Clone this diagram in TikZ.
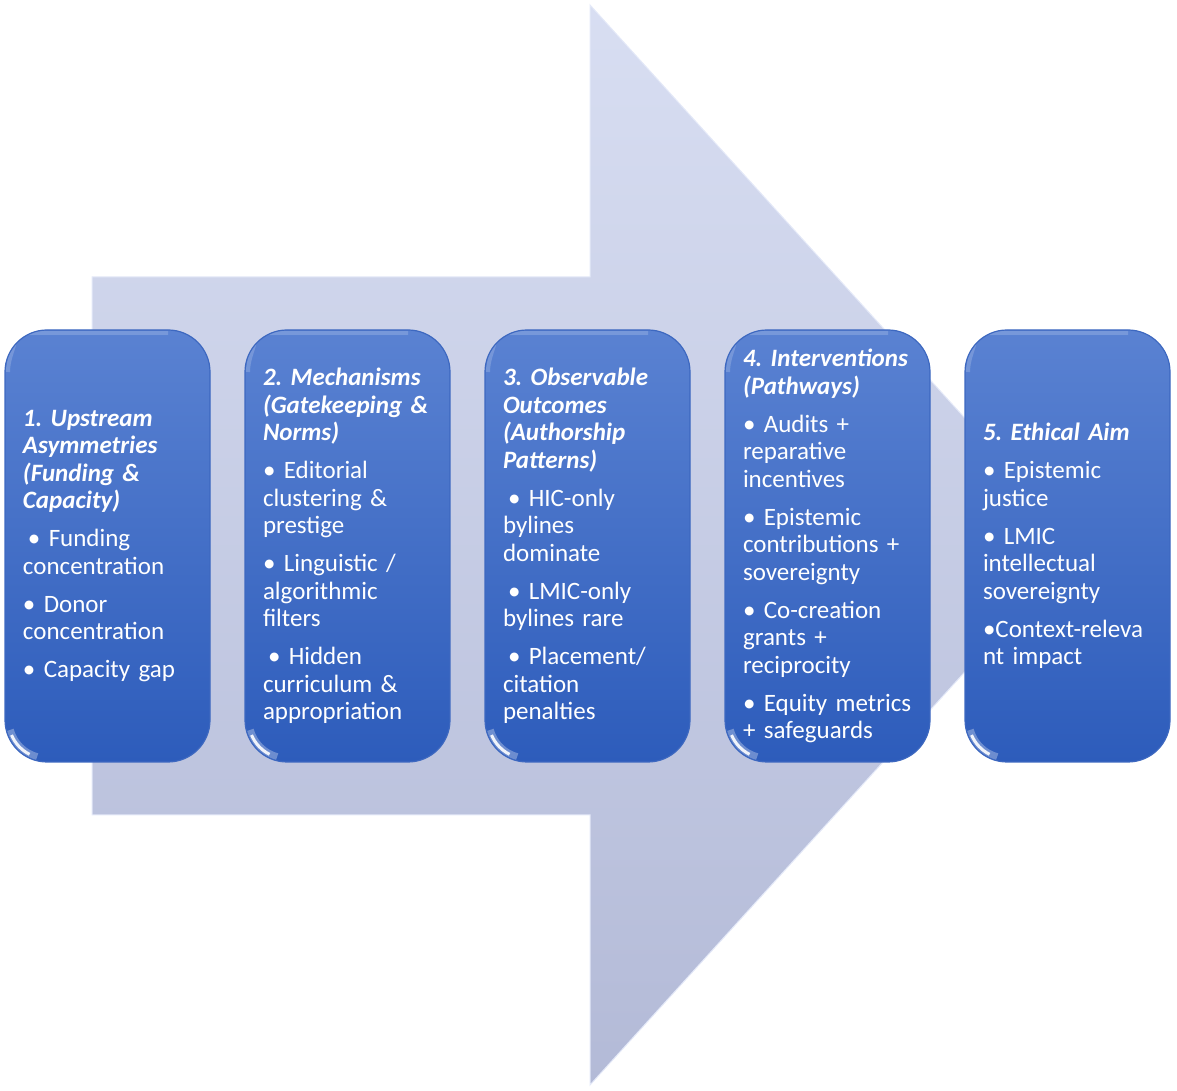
\documentclass[tikz,border=0pt]{standalone}
\usepackage{fontspec}
\setmainfont{Carlito}
\usetikzlibrary{positioning, shadings}
\definecolor{arrowtop}{HTML}{D8DEF2}
\definecolor{arrowbot}{HTML}{B3BAD7}
\definecolor{arrowedge}{HTML}{E4E9F8}
\definecolor{boxtop}{HTML}{5A82D2}
\definecolor{boxbot}{HTML}{2D5CBB}
\definecolor{boxedge}{HTML}{3D68C0}

\tikzset{
  stagebox/.style={rounded corners=42pt, minimum width=205pt, minimum height=432pt,
    top color=boxtop, bottom color=boxbot, draw=boxedge, line width=1.2pt,
    outer sep=0pt, text=white, text width=169pt, inner xsep=18pt, align=left,
    font=\fontsize{25}{27.5}\selectfont,
    path picture={
      \draw[white, opacity=.3, line width=7pt]
        ([shift={(42pt,42pt)}]path picture bounding box.south west)
        ++(195:38pt) arc[start angle=195, end angle=255, radius=38pt];
      \draw[white, opacity=.9, line width=3pt]
        ([shift={(42pt,42pt)}]path picture bounding box.south west)
        ++(203:38.5pt) arc[start angle=203, end angle=243, radius=38.5pt];
      \draw[white, opacity=.18, line width=4pt]
        ([shift={(42pt,-42pt)}]path picture bounding box.north west)
        ++(180:39pt) arc[start angle=180, end angle=90, radius=39pt]
        -- ++(121pt,0);
    }},
}
\newcommand{\stagetitle}[1]{{\bfseries\itshape #1}}
\newcommand{\gap}{\\[10.5pt]}

\begin{document}
\frenchspacing
\begin{tikzpicture}[x=1pt,y=1pt, node distance=35pt]
  \useasboundingbox (0,0) rectangle (1177,1091);

  % big arrow behind the stages
  \draw[top color=arrowtop, bottom color=arrowbot, draw=arrowedge, line width=1pt]
    (92,276) -- (92,814) -- (590,814) -- (590,1086) -- (1080,546)
    -- (590,6) -- (590,276) -- cycle;

  \node[stagebox] (up) at (107.5,545) {%
    \stagetitle{1. Upstream\\Asymmetries\\(Funding \&\\Capacity)}\gap
    \hspace*{5pt}• Funding\\concentration\gap
    • Donor\\concentration\gap
    • Capacity gap};
  \node[stagebox, right=of up] (mech) {%
    \stagetitle{2. Mechanisms\\(Gatekeeping \&\\Norms)}\gap
    • Editorial\\clustering \&\\prestige\gap
    • Linguistic /\\algorithmic\\filters\gap
    \hspace*{5pt}• Hidden\\curriculum \&\\appropriation};
  \node[stagebox, right=of mech] (obs) {%
    \stagetitle{3. Observable\\Outcomes\\(Authorship\\Patterns)}\gap
    \hspace*{5pt}• HIC-only\\bylines\\dominate\gap
    \hspace*{5pt}• LMIC-only\\bylines rare\gap
    \hspace*{5pt}• Placement/\\citation\\penalties};
  \node[stagebox, right=of obs] (inter) {%
    \stagetitle{4. Interventions\\(Pathways)}\gap
    • Audits +\\reparative\\incentives\gap
    • Epistemic\\contributions +\\sovereignty\gap
    • Co-creation\\grants +\\reciprocity\gap
    • Equity metrics\\+ safeguards};
  \node[stagebox, right=of inter] (aim) {%
    \stagetitle{5. Ethical Aim}\gap
    • Epistemic\\justice\gap
    • LMIC\\intellectual\\sovereignty\gap
    •Context-releva\\nt impact};
\end{tikzpicture}
\end{document}
